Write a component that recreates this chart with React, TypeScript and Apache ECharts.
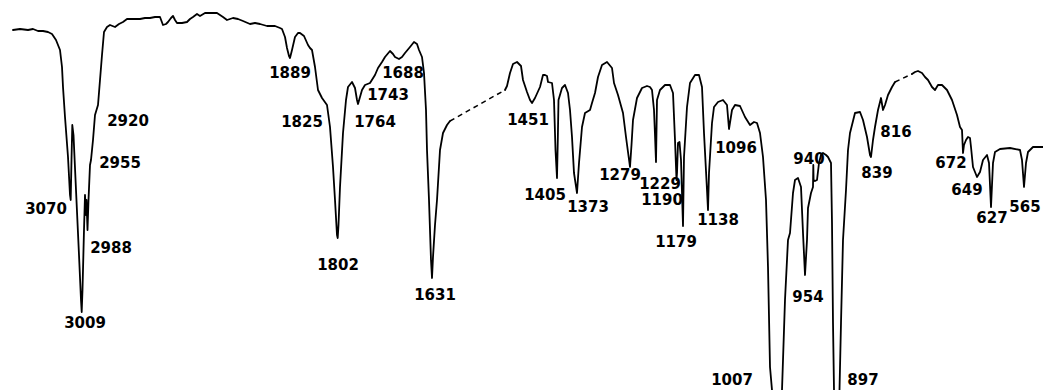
import React, { useEffect, useRef } from "react";
import * as echarts from "echarts";

// Trace: [chart position, absorption (% of full scale)]
const TRACE_A: [number, number][] = [
  [13, 7.5], [20, 7.25], [28, 7.5], [33, 7.25], [38, 7.75], [43, 7.75], [48, 8], [52, 8.5], [56, 10], [60, 12.5],
  [62, 16.75], [63, 21.75], [65, 29.25], [68, 39.25], [70, 48.75], [70.7, 50], [71.5, 40], [72.3, 31.25], [73.5, 33.75],
  [76, 47.5], [79, 63.75], [81, 75], [81.7, 78], [82.5, 72.5], [84, 57.5], [85, 48.75], [86, 53.75], [86.5, 50],
  [87.5, 57.5], [88.5, 50], [90, 41.25], [91, 40], [93, 35], [95, 28.75], [96.5, 27.5], [98, 26.25], [100, 20],
  [102, 13.75], [104, 8], [107, 6.75], [110, 6.25], [115, 6.75], [119, 6], [123, 5.5], [127, 4.75], [133, 4.75],
  [140, 4.75], [145, 4.5], [150, 4.5], [155, 4.25], [160, 4.25], [163, 6.25], [166, 6], [168, 5.5], [171, 4.5],
  [173, 4], [175, 5], [177, 5.75], [182, 5.75], [187, 5.5], [190, 4.75], [193, 4.25], [197, 3.5], [200, 4],
  [205, 3.25], [211, 3.25], [217, 3.25], [220, 3.75], [223, 4.25], [227, 5], [233, 4.5], [238, 4.75], [243, 5.25],
  [250, 6], [255, 5.75], [260, 6], [267, 6.5], [275, 6.5], [280, 7], [282, 7.25], [285, 9.25], [287, 12], [289, 14],
  [290, 14.5], [292, 12.5], [295, 9.25], [298, 8.25], [300, 8.25], [304, 9], [308, 11.25], [310, 12], [312, 12.5],
  [315, 16.75], [318, 22.5], [322, 24.5], [327, 26.25], [330, 31.75], [333, 41.75], [335, 50], [337, 58.75],
  [337.7, 59.5], [338.5, 56.25], [340, 46.75], [343, 33.25], [346, 25], [348, 21.75], [352, 20.5], [355, 22],
  [357, 25], [358, 26], [360, 24.25], [362, 22.5], [365, 21.25], [370, 20.75], [375, 18.75], [378, 17], [382, 15.5],
  [385, 14.25], [390, 12.75], [393, 13.5], [395, 14.25], [399, 14.75], [402, 14.25], [405, 13.25], [410, 11.75],
  [414, 10.5], [417, 11], [419, 12.5], [422, 14.25], [424, 18.25], [426, 27.5], [427, 37.5], [429, 50], [431, 65],
  [432, 69.5], [433, 64.25], [435, 56.25], [437, 50], [440, 37.5], [443, 33.25], [447, 31.25], [450, 30.25],
];

const BRIDGE_A: [number, number][] = [[450, 30.25], [505, 22.5]];

const TRACE_B: [number, number][] = [
  [505, 22.5], [507, 21.5], [510, 18.25], [513, 16], [517, 15.5], [521, 16.5], [523, 20], [527, 23], [530, 25],
  [532, 25.75], [535, 24.5], [540, 21.75], [543, 18.75], [545, 18.75], [547, 19], [548, 20.5], [552, 20.75], [554, 25],
  [555.5, 37.5], [557, 44.5], [557.8, 35], [558.5, 25], [562, 22], [565, 21.25], [568, 23.25], [570, 27.5],
  [572, 34.25], [574, 43.25], [577, 48.25], [579, 40.75], [582, 31.75], [585, 28.25], [590, 27.5], [592, 25.75],
  [595, 23.25], [598, 19.25], [602, 16.25], [607, 15.5], [612, 17], [614, 20.75], [618, 23.75], [623, 28.25],
  [626, 34.25], [628, 38], [630, 41.75], [631.5, 36.25], [633, 30], [637, 24.5], [642, 22], [647, 21.5], [650, 21.75],
  [652, 22.5], [654, 27.5], [655, 33.75], [656, 40.5], [657, 25], [660, 22.5], [665, 21.25], [670, 21.25],
  [673, 23.25], [675, 35], [676.5, 45], [677, 43.25], [678, 35.75], [679.5, 35.5], [681, 40], [683, 56.5],
  [684, 39.25], [687, 26.75], [690, 20.75], [695, 18.75], [699, 18.75], [702, 21.75], [704, 33.25], [707, 47.5],
  [708, 52.5], [709, 43.25], [712, 30.75], [714, 26.75], [718, 25.5], [723, 25], [727, 26.25], [729, 32.25],
  [732, 27.5], [735, 26.25], [740, 26.5], [745, 29.25], [750, 31.25], [754, 30.5], [757, 30.75], [760, 33.25],
  [763, 39.25], [766, 50], [768, 66.75], [770, 91.75], [772, 97.5], [775, 100], [779, 100], [782, 97.5], [785, 75],
  [788, 60], [790, 58.25], [793, 48.25], [795, 45], [798, 44.5], [801, 46.75], [803, 58.25], [805, 68.75], [807, 60],
  [808, 52], [811, 48.25], [813, 46.75], [813.3, 41.25], [813.6, 45], [815, 45.25], [817, 45], [819, 40.75],
  [821, 38.75], [823, 38.25], [826, 38.75], [828, 39.25], [831, 40.75], [832, 55.75], [833, 80.75], [834, 97.5],
  [836, 100], [838, 100], [839.5, 97.5], [841, 80.75], [843, 60], [846, 47.5], [848, 37.5], [850, 33.25],
  [855, 28.25], [860, 28], [863, 30], [867, 34.25], [870, 38.75], [871, 39.25], [873, 35], [875, 31.75],
  [878, 27.5], [881, 24.5], [883, 27.5], [885, 26.25], [888, 23.75], [892, 21.75], [895, 20.5],
];

const BRIDGE_B: [number, number][] = [[895, 20.5], [912, 18.5]];

const TRACE_C: [number, number][] = [
  [912, 18.5], [915, 18], [918, 17.75], [922, 18.25], [925, 19.25], [928, 20], [932, 21.75], [935, 22.5],
  [938, 21.25], [942, 21.25], [947, 22.5], [952, 25], [957, 28.75], [960, 31.75], [962, 32.5], [963, 38.25],
  [964, 36.25], [966, 35], [968, 34.25], [970, 34.5], [971, 36.75], [973, 41.75], [977, 44.25], [980, 43],
  [983, 40], [987, 38.75], [989, 40.75], [990, 46.25], [991, 51.75], [992, 46.25], [993, 40.75], [995, 38],
  [1000, 37.25], [1010, 37], [1020, 37.5], [1022, 40], [1024, 46.75], [1026, 40.75], [1028, 38], [1033, 36.75],
  [1043, 36.75],
];

// Peak annotations (wavenumbers, cm⁻¹) and where each is written on the chart
const PEAK_LABELS = [
  "3070", "3009", "2988", "2955", "2920", "1889", "1825", "1802", "1764", "1743", "1688", "1631",
  "1451", "1405", "1373", "1279", "1229", "1190", "1179", "1138", "1096", "1007", "954", "940",
  "897", "839", "816", "672", "649", "627", "565",
];
const PEAK_LABEL_X = [
  46, 85, 111, 120, 128, 290, 302, 338, 375, 388, 403, 435,
  528, 545, 588, 620, 660, 662, 676, 718, 736, 732, 808, 809,
  863, 877, 896, 951, 967, 992, 1025,
];
const PEAK_LABEL_Y = [
  52.25, 80.75, 62, 40.75, 30.25, 18.25, 30.5, 66.25, 30.5, 23.75, 18.25, 73.75,
  30, 48.75, 51.75, 43.75, 46, 50, 60.5, 55, 37, 95, 74.25, 39.75,
  95, 43.25, 33, 40.75, 47.5, 54.5, 51.75,
];

export default function App() {
  const ref = useRef<HTMLDivElement>(null);

  useEffect(() => {
    if (!ref.current) return;
    const chart = echarts.init(ref.current, undefined, { renderer: "svg" });
    const ink = "#000000";
    const solid = (data: [number, number][]) => ({
      type: "line",
      data,
      showSymbol: false,
      symbol: "none",
      smooth: false,
      clip: true,
      lineStyle: { color: ink, width: 1.8, join: "round", cap: "round" },
      silent: true,
    });
    const dashed = (data: [number, number][]) => ({
      type: "line",
      data,
      symbol: "none",
      clip: true,
      lineStyle: { color: ink, width: 1.5, type: [5, 4] },
      silent: true,
    });
    chart.setOption({
      animation: false,
      backgroundColor: "#ffffff",
      grid: { left: 0, right: 0, top: 0, bottom: 0 },
      xAxis: { type: "value", min: 0, max: 1043, show: false },
      yAxis: { type: "value", min: 0, max: 97.5, inverse: true, show: false },
      series: [
        solid(TRACE_A),
        dashed(BRIDGE_A),
        solid(TRACE_B),
        dashed(BRIDGE_B),
        solid(TRACE_C),
        {
          type: "scatter",
          symbolSize: 1,
          itemStyle: { color: "rgba(0,0,0,0)" },
          silent: true,
          clip: false,
          data: PEAK_LABELS.map((name, i) => ({ name, value: [PEAK_LABEL_X[i], PEAK_LABEL_Y[i]] })),
          label: {
            show: true,
            position: "inside",
            formatter: "{b}",
            color: ink,
            opacity: 1,
            textBorderWidth: 0,
            textBorderColor: "transparent",
            fontFamily: "DejaVu Sans",
            fontWeight: "bold",
            fontSize: 15,
          },
        },
      ],
    });
    return () => chart.dispose();
  }, []);

  return (
    <div
      ref={ref}
      style={{ position: "fixed", left: 0, top: 0, width: 1043, height: 390, background: "#fff" }}
    />
  );
}
